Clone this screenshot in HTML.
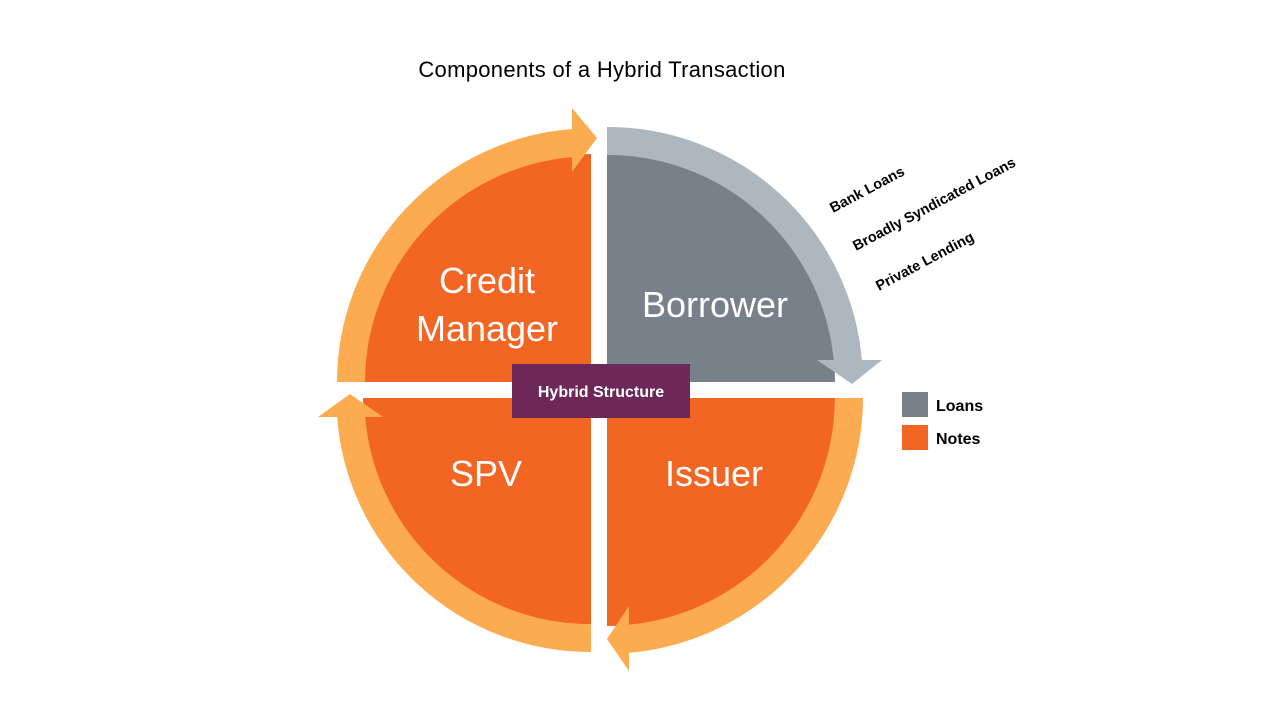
<!DOCTYPE html>
<html><head><meta charset="utf-8"><style>
html,body{margin:0;padding:0;background:#fff;}
svg{display:block;}
</style></head><body>
<svg width="1280" height="720" viewBox="0 0 1280 720" xmlns="http://www.w3.org/2000/svg">
<rect width="1280" height="720" fill="#fff"/>
<text x="602" y="77" font-family="Liberation Sans, sans-serif" font-size="22" letter-spacing="0.3" text-anchor="middle" fill="#000">Components of a Hybrid Transaction</text>

<!-- pies -->
<path d="M591,382 L363,382 A228,228 0 0 1 591,154 Z" fill="#f26522"/>
<path d="M607,382 L607,154 A228,228 0 0 1 835,382 Z" fill="#78818a"/>
<path d="M607,398 L835,398 A228,228 0 0 1 607,626 Z" fill="#f26522"/>
<path d="M591,398 L591,626 A228,228 0 0 1 363,398 Z" fill="#f26522"/>

<!-- bands -->
<g fill="none" stroke-width="28">
<path d="M351,382 A240,240 0 0 1 574,143" stroke="#fdab50"/>
<path d="M607,141 A241,241 0 0 1 848,362" stroke="#adb7bf"/>
<path d="M849,398 A242,242 0 0 1 626,639" stroke="#fdab50"/>
<path d="M591,638 A240,240 0 0 1 351,415" stroke="#fdab50"/>
</g>
<polygon points="572,108 572,172 597,138" fill="#fdab50"/>
<polygon points="817,360 882,360 852,384" fill="#adb7bf"/>
<polygon points="629,606 629,671 607,639" fill="#fdab50"/>
<polygon points="318,417 383,417 350,394" fill="#fdab50"/>

<!-- labels -->
<g font-family="Liberation Sans, sans-serif" fill="#fff" text-anchor="middle" font-size="36">
<text x="487" y="293">Credit</text>
<text x="487" y="341">Manager</text>
<text x="715" y="317">Borrower</text>
<text x="486" y="486">SPV</text>
<text x="714" y="486">Issuer</text>
</g>

<rect x="512" y="364" width="178" height="54" fill="#6d2758"/>
<text x="601" y="397" font-family="Liberation Sans, sans-serif" font-weight="bold" font-size="16" fill="#fff" text-anchor="middle">Hybrid Structure</text>

<g font-family="Liberation Sans, sans-serif" font-weight="bold" font-size="14.5" fill="#000">
<text transform="translate(833,213) rotate(-28)">Bank Loans</text>
<text transform="translate(856,251) rotate(-28)">Broadly Syndicated Loans</text>
<text transform="translate(879,291) rotate(-28)">Private Lending</text>
</g>

<rect x="902" y="392" width="26" height="25" fill="#78818a"/>
<rect x="902" y="425" width="26" height="25" fill="#f26522"/>
<g font-family="Liberation Sans, sans-serif" font-weight="bold" font-size="16" fill="#000">
<text x="936" y="411">Loans</text>
<text x="936" y="444">Notes</text>
</g>
</svg>
</body></html>
